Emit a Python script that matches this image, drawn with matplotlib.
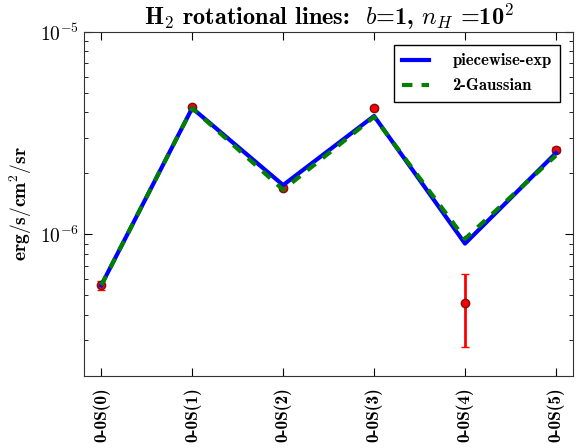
import matplotlib
matplotlib.use('Agg')
from matplotlib import pyplot as plt
import numpy as np

plt.rcParams['font.family'] = ['cmb10', 'DejaVu Serif']
plt.rcParams['mathtext.fontset'] = 'cm'
plt.rcParams['axes.unicode_minus'] = False

# H2 0-0 S(J) line intensities, erg/s/cm^2/sr
lines = ['0-0S(0)', '0-0S(1)', '0-0S(2)', '0-0S(3)', '0-0S(4)', '0-0S(5)']
observed = [5.6e-7, 4.27e-6, 1.70e-6, 4.22e-6, 4.57e-7, 2.62e-6]
obs_err = [0.3e-7, 0.1e-6, 0.05e-6, 0.1e-6, 1.8e-7, 0.08e-6]
piecewise_exp = [5.6e-7, 4.2e-6, 1.75e-6, 3.84e-6, 9.0e-7, 2.52e-6]
two_gaussian = [5.6e-7, 4.2e-6, 1.66e-6, 3.80e-6, 9.5e-7, 2.45e-6]

x = np.arange(len(lines))

fig = plt.figure(figsize=(5.79, 4.48), dpi=100)
ax = fig.add_axes([0.145, 0.161, 0.845, 0.768])

ax.errorbar(x, observed, yerr=obs_err, fmt='o', color='red', ecolor='red',
            mec='#7a1010', ms=6, elinewidth=2, capsize=3, capthick=1, zorder=1)
ax.plot(x, piecewise_exp, '-', color='blue', lw=3, label='piecewise-exp', zorder=2)
ax.plot(x, two_gaussian, '--', color='green', lw=3, dashes=(2.5, 2.2),
        label='2-Gaussian', zorder=3)

ax.set_yscale('log')
ax.set_ylim(2e-7, 1e-5)
ax.set_xlim(-0.19, 5.19)
ax.set_yticks([1e-6, 1e-5])
ax.set_yticklabels([r'$\mathbf{10^{-6}}$', r'$\mathbf{10^{-5}}$'], fontsize=14)
ax.set_xticks(x)
ax.set_xticklabels(lines, rotation=90, fontsize=12.5)
ax.tick_params(which='both', direction='in', top=True, right=True)
ax.tick_params(which='major', length=6)
ax.tick_params(which='minor', length=3)
ax.tick_params(axis='x', pad=8)

ax.set_ylabel(r'$\mathbf{erg/s/cm^2/sr}$', fontsize=14)
ax.set_title(r'$\mathbf{H_2}$ rotational lines:  $b$=1, $n_H$ =10$^{\mathbf{2}}$',
             fontsize=17.5, pad=5)

leg = ax.legend(loc='upper right', fontsize=12, fancybox=False, framealpha=1,
                borderaxespad=0.8, handlelength=1.6, handletextpad=1.4,
                labelspacing=0.6, borderpad=0.5)
leg.get_frame().set_edgecolor('black')

for s in ax.spines.values():
    s.set_color('#333333')

plt.savefig('out.png', dpi=100)
print("out.png saved")
